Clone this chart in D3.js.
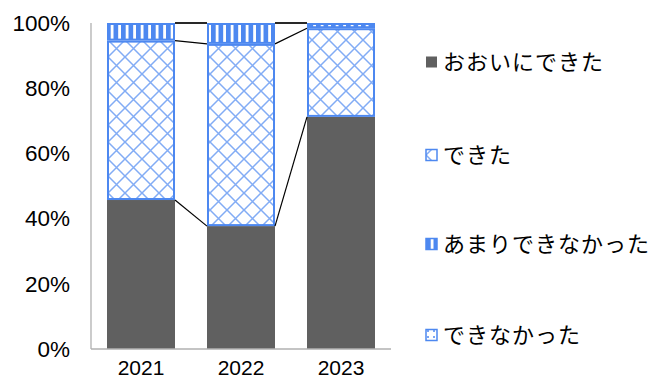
<!DOCTYPE html>
<html>
<head>
<meta charset="utf-8">
<script src="https://cdn.jsdelivr.net/npm/d3@7"></script>
<style>
  body { margin: 0; background: #fff; }
  svg { display: block; }
</style>
</head>
<body>
<div id="chart"></div>
<script>
const years = ['2021', '2022', '2023'];
const seriesNames = ['おおいにできた', 'できた', 'あまりできなかった', 'できなかった'];
const greatly = [45.7, 37.7, 71.2];
const could = [48.9, 55.9, 27.2];
const hardly = [5.4, 6.4, 1.6];
const couldNot = [0, 0, 0];
const yTicks = [0, 20, 40, 60, 80, 100];

const width = 657, height = 378;
const margin = {top: 23, right: 266, bottom: 29, left: 91};
const innerWidth = width - margin.left - margin.right;
const innerHeight = height - margin.top - margin.bottom;
const blue = '#4d88f0';

const rows = years.map((y, i) => ({
  year: y,
  [seriesNames[0]]: greatly[i],
  [seriesNames[1]]: could[i],
  [seriesNames[2]]: hardly[i],
  [seriesNames[3]]: couldNot[i]
}));
const stacked = d3.stack().keys(seriesNames)(rows);

const svg = d3.select('#chart').append('svg')
  .attr('width', width).attr('height', height);

/* Patterns */
const defs = svg.append('defs');
const pCross = defs.append('pattern').attr('id', 'pCross')
  .attr('patternUnits', 'userSpaceOnUse').attr('width', 17).attr('height', 17);
pCross.append('rect').attr('width', 17).attr('height', 17).attr('fill', '#fff');
pCross.append('path').attr('d', 'M0,0 L17,17 M17,0 L0,17')
  .attr('stroke', '#82acf5').attr('stroke-width', 1.5).attr('fill', 'none');

const pStripe = defs.append('pattern').attr('id', 'pStripe')
  .attr('patternUnits', 'userSpaceOnUse').attr('width', 7.5).attr('height', 10);
pStripe.append('rect').attr('width', 7.5).attr('height', 10).attr('fill', '#fff');
pStripe.append('rect').attr('x', 0).attr('width', 4.7).attr('height', 10).attr('fill', blue);

const pDots = defs.append('pattern').attr('id', 'pDots')
  .attr('patternUnits', 'userSpaceOnUse').attr('width', 6).attr('height', 6);
pDots.append('rect').attr('width', 6).attr('height', 6).attr('fill', '#fff');
pDots.append('rect').attr('x', 1).attr('y', 1).attr('width', 2).attr('height', 2).attr('fill', '#7aa6f5');

const fills = {
  [seriesNames[0]]: '#606060',
  [seriesNames[1]]: 'url(#pCross)',
  [seriesNames[2]]: 'url(#pStripe)',
  [seriesNames[3]]: 'url(#pDots)'
};

const x = d3.scaleBand().domain(years).range([0, innerWidth]).paddingInner(0.32).paddingOuter(0.16);
const y = d3.scaleLinear().domain([0, 100]).range([innerHeight, 0]);

const g = svg.append('g').attr('transform', `translate(${margin.left},${margin.top})`);

/* Bars */
stacked.forEach((s, si) => {
  g.selectAll(`.seg${si}`)
    .data(s.map((d, i) => ({d, i})).filter(o => o.d[1] - o.d[0] > 0))
    .join('rect')
    .attr('class', `seg${si}`)
    .attr('x', o => x(years[o.i]) + (si ? 1 : 0))
    .attr('width', x.bandwidth() - (si ? 2 : 0))
    .attr('y', o => y(o.d[1]) + (si ? 1 : 0))
    .attr('height', o => Math.max(0, y(o.d[0]) - y(o.d[1]) - (si ? 2 : 0)))
    .attr('fill', fills[seriesNames[si]])
    .attr('stroke', si ? blue : 'none')
    .attr('stroke-width', 2);
});

/* Series lines */
stacked.forEach(s => {
  for (let i = 0; i < years.length - 1; i++) {
    g.append('line')
      .attr('x1', x(years[i]) + x.bandwidth()).attr('y1', y(s[i][1]))
      .attr('x2', x(years[i + 1])).attr('y2', y(s[i + 1][1]))
      .attr('stroke', '#000').attr('stroke-width', 1.2);
  }
});

/* Axes */
g.append('line').attr('x1', 0).attr('x2', 0).attr('y1', 0).attr('y2', innerHeight)
  .attr('stroke', '#b0b0b0').attr('stroke-width', 1.3);
g.append('line').attr('x1', 0).attr('x2', innerWidth).attr('y1', innerHeight).attr('y2', innerHeight)
  .attr('stroke', '#b0b0b0').attr('stroke-width', 1.3);

g.selectAll('.ytick').data(yTicks).join('text')
  .attr('class', 'ytick')
  .attr('x', -21).attr('y', d => y(d)).attr('dy', '0.35em')
  .attr('text-anchor', 'end')
  .attr('font-family', 'Liberation Sans, Arial, sans-serif').attr('font-size', '22.5px')
  .attr('fill', '#000')
  .text(d => d + '%');

g.selectAll('.xtick').data(years).join('text')
  .attr('class', 'xtick')
  .attr('x', d => x(d) + x.bandwidth() / 2).attr('y', innerHeight + 26)
  .attr('text-anchor', 'middle')
  .attr('font-family', 'Liberation Sans, Arial, sans-serif').attr('font-size', '21px')
  .attr('fill', '#000')
  .text(d => d);

/* Legend */
const legY = [62, 155, 244, 335];
const leg = svg.append('g').attr('transform', 'translate(426,0)');
seriesNames.forEach((name, i) => {
  const r = leg.append('g').attr('transform', `translate(0,${legY[i]})`);
  r.append('rect').attr('x', 0).attr('y', -5.5).attr('width', 11).attr('height', 11)
    .attr('fill', fills[name])
    .attr('stroke', i ? blue : 'none').attr('stroke-width', 1.5);
  r.append('text').attr('x', 17).attr('y', 0).attr('dy', '0.36em')
    .attr('font-family', 'Noto Sans CJK JP, sans-serif').attr('font-size', '22px')
    .attr('letter-spacing', '1px')
    .attr('fill', '#000')
    .text(name);
});
</script>
</body>
</html>
